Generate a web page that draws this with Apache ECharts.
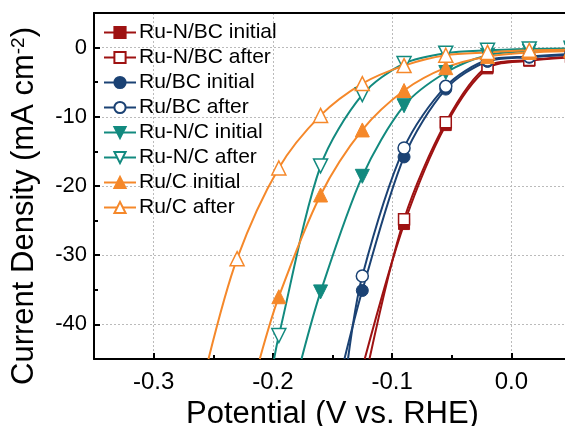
<!DOCTYPE html>
<html>
<head>
<meta charset="utf-8">
<script src="https://cdn.jsdelivr.net/npm/echarts@6/dist/echarts.min.js"></script>
<style>html,body{margin:0;padding:0;background:#fff;}#c{width:565px;height:426px;}</style>
</head>
<body>
<div id="c"></div>
<script>
// marker potentials (V vs RHE)
const markerV = [-0.23, -0.195, -0.16, -0.125, -0.09, -0.055, -0.02, 0.015, 0.05];

// current density at marker potentials (null = below plotted range)
const ruNBCInitial = [null, null, null, null, -25.5, -11.2, -3.0, -1.9, -1.4];
const ruNBCAfter   = [null, null, null, null, -24.8, -10.8, -2.7, -1.8, -1.3];
const ruBCInitial  = [null, null, null, -35.1, -15.8, -6.0, -2.0, -1.4, -1.0];
const ruBCAfter    = [null, null, null, -33.0, -14.5, -5.6, -1.8, -1.3, -0.9];
const ruNCInitial  = [null, null, -35.3, -18.6, -8.4, -3.6, -1.1, -0.5, -0.3];
const ruNCAfter    = [null, -41.6, -17.1, -6.8, -2.3, -0.8, -0.4, -0.2, -0.1];
const ruCInitial   = [null, -36.0, -21.3, -11.9, -6.2, -2.9, -1.3, -0.7, -0.5];
const ruCAfter     = [-30.5, -17.4, -9.8, -5.2, -2.6, -1.1, -0.7, -0.4, -0.3];

// where each curve leaves the bottom of the plot [V, mA cm-2]
const ruNBCInitialTail = [-0.123, -45];
const ruNBCAfterTail   = [-0.119, -45];
const ruBCInitialTail  = [-0.140, -45];
const ruBCAfterTail    = [-0.137, -45];
const ruNCInitialTail  = [-0.176, -45];
const ruNCAfterTail    = [-0.199, -45];
const ruCInitialTail   = [-0.211, -45];
const ruCAfterTail     = [-0.254, -45];

const seriesNames = ['Ru-N/BC initial','Ru-N/BC after','Ru/BC initial','Ru/BC after','Ru-N/C initial','Ru-N/C after','Ru/C initial','Ru/C after'];

const xTicks = [-0.3, -0.2, -0.1, 0.0];
const xMinorTicks = [-0.25, -0.15, -0.05, 0.05];
const yTicks = [-40, -30, -20, -10, 0];
const yMinorTicks = [-35, -25, -15, -5];

const RED = '#9E1212', NAVY = '#1B4274', TEAL = '#128A7F', ORANGE = '#F5882A';
const FONT = 'Liberation Sans, Arial, sans-serif';

function build(vals, tail) {
  const d = [{ value: tail.slice(), symbol: 'none' }];
  markerV.forEach((v, i) => { if (vals[i] !== null) d.push([v, vals[i]]); });
  return d;
}

function mk(name, vals, tail, color, symbol, filled, rotate, size) {
  return {
    name: name, type: 'line', xAxisIndex: 0, yAxisIndex: 0,
    data: build(vals, tail),
    smooth: 0.3,
    symbol: symbol, symbolSize: size, symbolRotate: rotate,
    showAllSymbol: true,
    lineStyle: { color: color, width: 2 },
    itemStyle: filled ? { color: color, borderColor: color, borderWidth: 1 } : { color: '#fff', borderColor: color, borderWidth: 1.5 },
    emphasis: { disabled: true },
    animation: false, z: 3
  };
}

const chart = echarts.init(document.getElementById('c'), null, { renderer: 'canvas' });
const gridRect = { left: 94, top: 13, width: 477, height: 346, containLabel: false, outerBoundsMode: 'none' };
chart.setOption({
  animation: false,
  backgroundColor: '#fff',
  textStyle: { fontFamily: FONT },
  grid: [Object.assign({}, gridRect), Object.assign({}, gridRect)],
  legend: {
    left: 103, top: 22, orient: 'vertical', padding: 0,
    itemWidth: 32, itemHeight: 14, itemGap: 4,
    textStyle: { fontSize: 21, color: '#000', fontFamily: FONT, lineHeight: 21, padding: [0, 0, 0, -2] },
    data: seriesNames
  },
  xAxis: [
    {
      type: 'value', gridIndex: 0, position: 'bottom', min: -0.35, max: 0.05,
      name: 'Potential (V vs. RHE)', nameLocation: 'middle', nameGap: 34,
      nameTextStyle: { fontSize: 31, color: '#000', fontFamily: FONT, verticalAlign: 'top' },
      axisLine: { show: true, onZero: false, lineStyle: { color: '#000', width: 2 } },
      axisTick: { show: true, inside: true, length: 6, customValues: xTicks, lineStyle: { color: '#000', width: 2 } },
      axisLabel: { show: true, customValues: xTicks, fontSize: 24, color: '#000', fontFamily: FONT, margin: 11, formatter: v => v.toFixed(1) },
      splitLine: { show: true, lineStyle: { color: '#bbb', width: 1, type: [2, 2] } }
    },
    {
      type: 'value', gridIndex: 0, position: 'top', min: -0.35, max: 0.05,
      axisLine: { show: true, onZero: false, lineStyle: { color: '#000', width: 2 } },
      axisTick: { show: false }, axisLabel: { show: false }, splitLine: { show: false }
    },
    {
      type: 'value', gridIndex: 1, position: 'bottom', min: -0.35, max: 0.05,
      axisLine: { show: false, onZero: false },
      axisTick: { show: true, inside: true, length: 4, customValues: xMinorTicks, lineStyle: { color: '#000', width: 2 } },
      axisLabel: { show: false }, splitLine: { show: false }
    }
  ],
  yAxis: [
    {
      type: 'value', gridIndex: 0, position: 'left', min: -45, max: 5,
      name: 'Current Density (mA cm{sup|-2})', nameLocation: 'middle', nameGap: 54,
      nameTextStyle: {
        fontSize: 31, color: '#000', fontFamily: FONT, padding: [0, 40, 0, 0],
        rich: { sup: { fontSize: 19, color: '#000', fontFamily: FONT, verticalAlign: 'top', lineHeight: 19, padding: [0, 0, 14, 0] } }
      },
      axisLine: { show: true, onZero: false, lineStyle: { color: '#000', width: 2 } },
      axisTick: { show: true, inside: true, length: 6, customValues: yTicks, lineStyle: { color: '#000', width: 2 } },
      axisLabel: { show: true, customValues: yTicks, fontSize: 22, color: '#000', fontFamily: FONT, margin: 7, formatter: v => String(v) },
      splitLine: { show: true, lineStyle: { color: '#bbb', width: 1, type: [2, 2] } }
    },
    {
      type: 'value', gridIndex: 1, position: 'left', min: -45, max: 5,
      axisLine: { show: false, onZero: false },
      axisTick: { show: true, inside: true, length: 4, customValues: yMinorTicks, lineStyle: { color: '#000', width: 2 } },
      axisLabel: { show: false }, splitLine: { show: false }
    }
  ],
  series: [
    mk(seriesNames[0], ruNBCInitial, ruNBCInitialTail, RED, 'rect', true, 0, 11),
    mk(seriesNames[1], ruNBCAfter, ruNBCAfterTail, RED, 'rect', false, 0, 11),
    mk(seriesNames[2], ruBCInitial, ruBCInitialTail, NAVY, 'circle', true, 0, 12),
    mk(seriesNames[3], ruBCAfter, ruBCAfterTail, NAVY, 'circle', false, 0, 12),
    mk(seriesNames[4], ruNCInitial, ruNCInitialTail, TEAL, 'triangle', true, 180, 14),
    mk(seriesNames[5], ruNCAfter, ruNCAfterTail, TEAL, 'triangle', false, 180, 14),
    mk(seriesNames[6], ruCInitial, ruCInitialTail, ORANGE, 'triangle', true, 0, 14),
    mk(seriesNames[7], ruCAfter, ruCAfterTail, ORANGE, 'triangle', false, 0, 14)
  ]
});
</script>
</body>
</html>
